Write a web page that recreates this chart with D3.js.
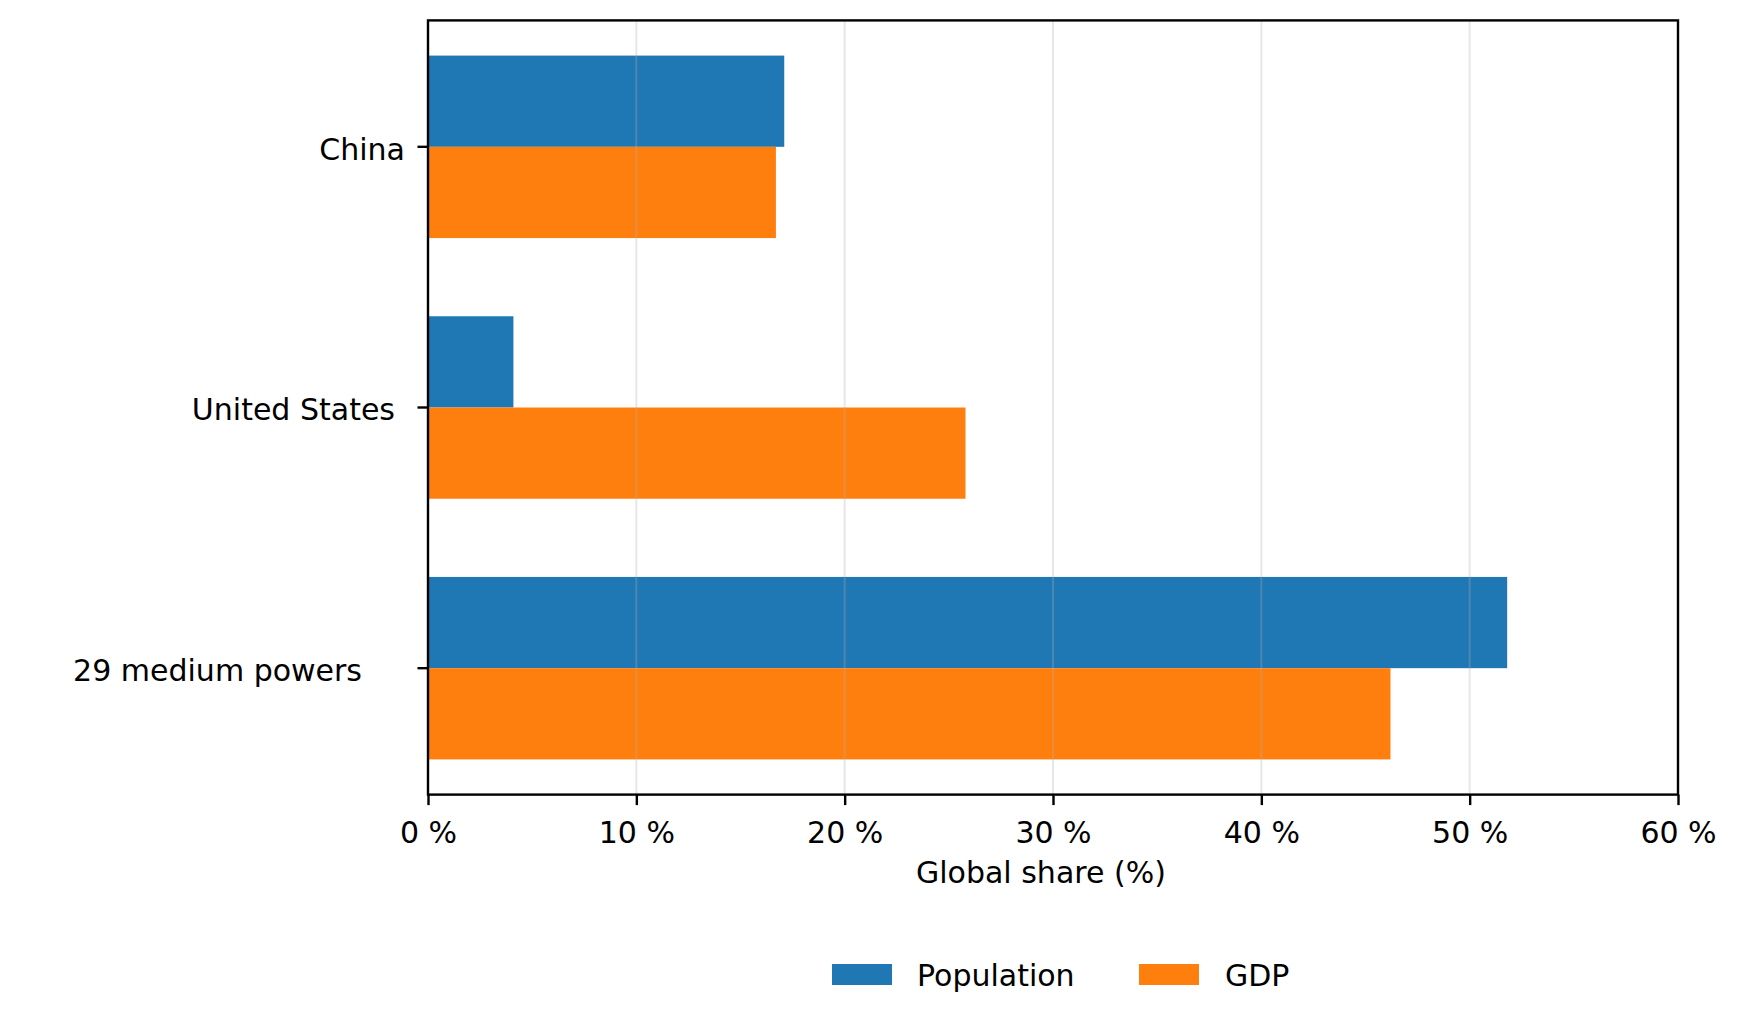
<!DOCTYPE html>
<html>
<head>
<meta charset="utf-8">
<script src="https://cdn.jsdelivr.net/npm/d3@7"></script>
<style>
  html, body { margin: 0; padding: 0; background: #ffffff; }
  svg { display: block; }
  text { font-family: "DejaVu Sans", sans-serif; fill: #000; }
</style>
</head>
<body>
<svg id="chart" width="1738" height="1025"></svg>
<script>
// ---- data ----
const categories = ["China", "United States", "29 medium powers"];
const seriesNames = ["Population", "GDP"];
const population = [17.1, 4.1, 51.8];
const gdp = [16.7, 25.8, 46.2];
const xTicks = [0, 10, 20, 30, 40, 50, 60];
const xTickLabels = ["0 %", "10 %", "20 %", "30 %", "40 %", "50 %", "60 %"];
const xLabel = "Global share (%)";

// ---- layout / style ----
const colors = ["#1f77b4", "#ff7f0e"];
const fontSize = 30;
const plot = { left: 428, right: 1678, top: 20.4, bottom: 794.6 };
const labelShift = [-2, -12, -45]; // horizontal nudges of the category labels

const svg = d3.select("#chart");
svg.append("rect").attr("width", 1738).attr("height", 1025).attr("fill", "#fff");

const x = d3.scaleLinear().domain([0, 60]).range([plot.left, plot.right]);
const y = d3.scaleBand().domain(categories)
  .range([plot.top, plot.bottom]).paddingInner(0.3).paddingOuter(0.135);
const ySub = d3.scaleBand().domain(seriesNames).range([0, y.bandwidth()]);

const series = [population, gdp];

// bars
const g = svg.append("g");
seriesNames.forEach((name, si) => {
  g.selectAll(null).data(categories).enter().append("rect")
    .attr("x", x(0))
    .attr("y", c => y(c) + ySub(name))
    .attr("width", (c, i) => x(series[si][i]) - x(0))
    .attr("height", ySub.bandwidth())
    .attr("fill", colors[si]);
});

// grid lines (drawn on top, translucent)
svg.append("g").selectAll("line").data(xTicks).enter().append("line")
  .attr("x1", d => x(d)).attr("x2", d => x(d))
  .attr("y1", plot.top).attr("y2", plot.bottom)
  .attr("stroke", "#b0b0b0").attr("stroke-opacity", 0.3).attr("stroke-width", 2);

// frame
svg.append("rect")
  .attr("x", plot.left).attr("y", plot.top)
  .attr("width", plot.right - plot.left).attr("height", plot.bottom - plot.top)
  .attr("fill", "none").attr("stroke", "#000").attr("stroke-width", 2.4);

// x axis
const xAxis = d3.axisBottom(x).tickValues(xTicks)
  .tickFormat((d, i) => xTickLabels[i]).tickSize(10.5).tickPadding(10.5);
const xg = svg.append("g").attr("transform", `translate(0,${plot.bottom})`).call(xAxis);
xg.select(".domain").remove();
xg.selectAll(".tick line").attr("stroke", "#000").attr("stroke-width", 2.4);
xg.selectAll(".tick text").attr("font-size", fontSize).attr("font-family", "DejaVu Sans")
  .attr("fill", "#000").attr("dy", "0.9em");

// y axis
const yAxis = d3.axisLeft(y).tickSize(10.5).tickPadding(10.5);
const yg = svg.append("g").attr("transform", `translate(${plot.left},0)`).call(yAxis);
yg.select(".domain").remove();
yg.selectAll(".tick line").attr("stroke", "#000").attr("stroke-width", 2.4);
yg.selectAll(".tick text").attr("font-size", fontSize).attr("font-family", "DejaVu Sans")
  .attr("fill", "#000").attr("dy", "0.43em")
  .attr("dx", (d, i) => labelShift[i]);

// x label
svg.append("text").attr("x", 916).attr("y", 883)
  .attr("font-size", fontSize).text(xLabel);

// legend
const legendItems = [
  { px: 832, tx: 917 },
  { px: 1139, tx: 1225 }
];
const lg = svg.append("g");
seriesNames.forEach((name, i) => {
  lg.append("rect").attr("x", legendItems[i].px).attr("y", 964)
    .attr("width", 60).attr("height", 21).attr("fill", colors[i]);
  lg.append("text").attr("x", legendItems[i].tx).attr("y", 985.5)
    .attr("font-size", fontSize).text(name);
});
</script>
</body>
</html>
